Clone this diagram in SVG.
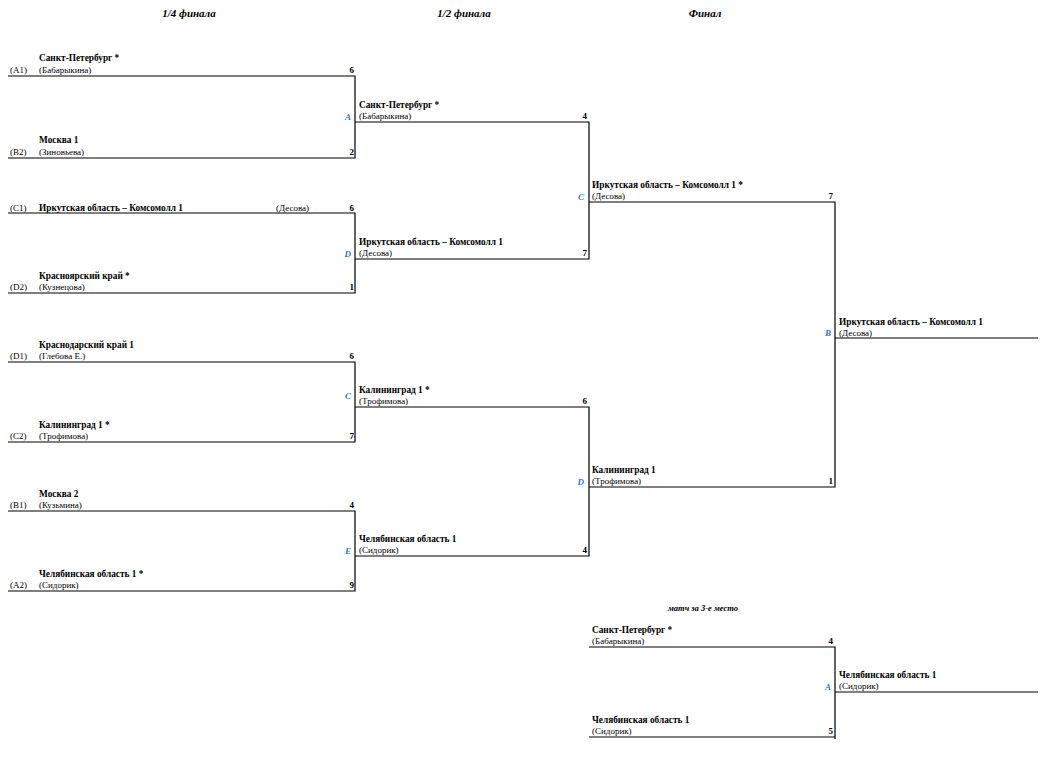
<svg xmlns="http://www.w3.org/2000/svg" width="1057" height="776" viewBox="0 0 1057 776">
<style>
text{font-family:"Liberation Serif","Times New Roman",serif;fill:#000}
.h{font-size:11px;font-weight:bold;font-style:italic;text-anchor:middle}
.h2{font-size:8.5px;font-weight:bold;font-style:italic;text-anchor:middle}
.n{font-size:9.3px;font-weight:bold}
.p{font-size:9px}
.s{font-size:9px;font-weight:bold;text-anchor:end}
.l{font-size:9px;font-weight:bold;font-style:italic;fill:#2f78cc;text-anchor:end}
.c line,.c path{stroke:#000;stroke-width:1.2;fill:none}
</style>
<rect width="1057" height="776" fill="#fff"/>
<g id="headers">
<text class="h" x="189" y="17">1/4 финала</text>
<text class="h" x="464" y="17">1/2 финала</text>
<text class="h" x="705" y="17">Финал</text>
<text class="h2" x="703" y="611">матч за 3-е место</text>
</g>
<g class="c" id="connectors">
<path d="M8 76H355V158H8"/>
<path d="M8 213H355V293H8"/>
<path d="M8 362H355V442H8"/>
<path d="M8 511H355V591H8"/>
<path d="M355 122H589V259H355"/>
<path d="M355 407H589V556H355"/>
<path d="M589 202H835V487H589"/>
<line x1="835" y1="338" x2="1038" y2="338"/>
<path d="M589 647H835V739"/>
<line x1="589" y1="737" x2="835" y2="737"/>
<line x1="835" y1="692" x2="1038" y2="692"/>
</g>
<g id="qf-A1"><text class="p" x="10" y="73">(A1)</text><text class="n" x="39" y="61">Санкт-Петербург *</text><text class="p" x="39" y="73">(Бабарыкина)</text><text class="s" x="354" y="73">6</text></g>
<g id="qf-B2"><text class="p" x="10" y="155">(B2)</text><text class="n" x="39" y="143">Москва 1</text><text class="p" x="39" y="155">(Зиновьева)</text><text class="s" x="354" y="155">2</text></g>
<g id="qf-C1"><text class="p" x="10" y="210.5">(C1)</text><text class="n" x="39" y="210.5">Иркутская область – Комсомолл 1</text><text class="p" x="276" y="210.5">(Десова)</text><text class="s" x="354" y="210.5">6</text></g>
<g id="qf-D2"><text class="p" x="10" y="290">(D2)</text><text class="n" x="39" y="278.5">Красноярский край *</text><text class="p" x="39" y="290">(Кузнецова)</text><text class="s" x="354" y="290">1</text></g>
<g id="qf-D1"><text class="p" x="10" y="359">(D1)</text><text class="n" x="39" y="347.5">Краснодарский край 1</text><text class="p" x="39" y="359">(Глебова Е.)</text><text class="s" x="354" y="359">6</text></g>
<g id="qf-C2"><text class="p" x="10" y="439">(C2)</text><text class="n" x="39" y="427.5">Калининград 1 *</text><text class="p" x="39" y="439">(Трофимова)</text><text class="s" x="354" y="439">7</text></g>
<g id="qf-B1"><text class="p" x="10" y="508">(B1)</text><text class="n" x="39" y="496.5">Москва 2</text><text class="p" x="39" y="508">(Кузьмина)</text><text class="s" x="354" y="508">4</text></g>
<g id="qf-A2"><text class="p" x="10" y="588">(A2)</text><text class="n" x="39" y="576.5">Челябинская область 1 *</text><text class="p" x="39" y="588">(Сидорик)</text><text class="s" x="354" y="588">9</text></g>
<g id="sf-A"><text class="l" x="351" y="120">A</text><text class="n" x="359" y="107.5">Санкт-Петербург *</text><text class="p" x="359" y="119">(Бабарыкина)</text><text class="s" x="587" y="119">4</text></g>
<g id="sf-D"><text class="l" x="351" y="257">D</text><text class="n" x="359" y="244.5">Иркутская область – Комсомолл 1</text><text class="p" x="359" y="256">(Десова)</text><text class="s" x="587" y="256">7</text></g>
<g id="sf-C"><text class="l" x="351" y="399">C</text><text class="n" x="359" y="392.5">Калининград 1 *</text><text class="p" x="359" y="404">(Трофимова)</text><text class="s" x="587" y="404">6</text></g>
<g id="sf-E"><text class="l" x="351" y="554">E</text><text class="n" x="359" y="541.5">Челябинская область 1</text><text class="p" x="359" y="553">(Сидорик)</text><text class="s" x="587" y="553">4</text></g>
<g id="f-C"><text class="l" x="584" y="200">C</text><text class="n" x="592" y="187.5">Иркутская область – Комсомолл 1 *</text><text class="p" x="592" y="199">(Десова)</text><text class="s" x="833" y="199">7</text></g>
<g id="f-D"><text class="l" x="584" y="485">D</text><text class="n" x="592" y="472.5">Калининград 1</text><text class="p" x="592" y="484">(Трофимова)</text><text class="s" x="833" y="484">1</text></g>
<g id="winner"><text class="l" x="831" y="336">B</text><text class="n" x="839" y="324.5">Иркутская область – Комсомолл 1</text><text class="p" x="839" y="336">(Десова)</text></g>
<g id="t-1"><text class="n" x="592" y="632.5">Санкт-Петербург *</text><text class="p" x="592" y="644">(Бабарыкина)</text><text class="s" x="833" y="644">4</text></g>
<g id="t-2"><text class="n" x="592" y="722.5">Челябинская область 1</text><text class="p" x="592" y="734">(Сидорик)</text><text class="s" x="833" y="734">5</text></g>
<g id="t-win"><text class="l" x="831" y="690">A</text><text class="n" x="839" y="677.5">Челябинская область 1</text><text class="p" x="839" y="689">(Сидорик)</text></g>
</svg>
